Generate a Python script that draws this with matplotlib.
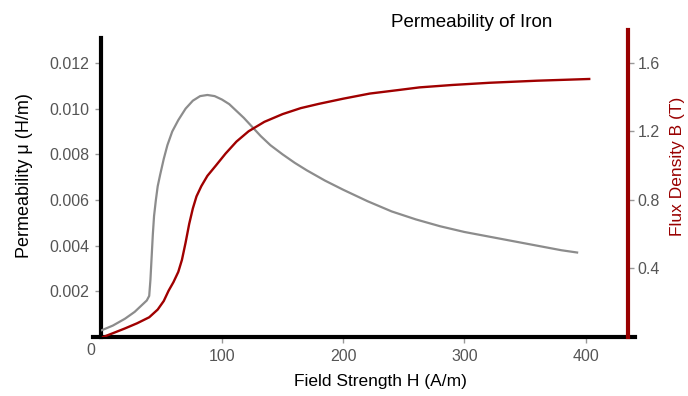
import matplotlib.pyplot as plt
import numpy as np

plt.rcParams['font.family'] = ['Liberation Sans', 'DejaVu Sans']

# permeability curve (gray)
mu_H = [1, 10, 20, 28, 34, 38, 40, 41, 42, 43, 44, 45.5, 47, 49, 52, 55, 59, 64, 70,
        76, 82, 88, 94, 100, 106, 112, 118, 125, 132, 140, 150, 160, 170, 185, 200,
        220, 240, 260, 280, 300, 320, 340, 360, 380, 393]
mu_val = [0.0003, 0.0005, 0.0008, 0.0011, 0.0014, 0.0016, 0.0018, 0.0025, 0.0035,
          0.0045, 0.0053, 0.0060, 0.0066, 0.0071, 0.0078, 0.0084, 0.0090, 0.0095,
          0.0100, 0.01035, 0.01055, 0.0106, 0.01055, 0.0104, 0.0102, 0.0099, 0.0096,
          0.0092, 0.0088, 0.0084, 0.0080, 0.00763, 0.0073, 0.00685, 0.00645, 0.00595,
          0.0055, 0.00515, 0.00485, 0.0046, 0.0044, 0.0042, 0.0040, 0.0038, 0.0037]

# flux density curve (red)
b_H = [2, 10, 20, 30, 40, 47, 52, 56, 60, 64, 67, 70, 73, 76, 79, 83, 88, 95, 103,
       112, 122, 135, 150, 165, 180, 200, 222, 245, 263, 290, 321, 360, 403]
b_val = [0.0, 0.022, 0.05, 0.08, 0.115, 0.16, 0.21, 0.27, 0.32, 0.38, 0.45, 0.55,
         0.66, 0.75, 0.82, 0.88, 0.94, 1.0, 1.07, 1.14, 1.2, 1.255, 1.3, 1.335, 1.36,
         1.39, 1.42, 1.44, 1.456, 1.47, 1.483, 1.495, 1.505]

x_ticks = [100, 200, 300, 400]
mu_ticks = [0.002, 0.004, 0.006, 0.008, 0.010, 0.012]
b_ticks = [0.4, 0.8, 1.2, 1.6]

dark_red = '#990000'
tick_grey = '#555555'

fig = plt.figure(figsize=(6.88, 3.96), dpi=100)
ax = fig.add_axes([0.1464, 0.149, 0.7664, 0.768])
ax2 = ax.twinx()

ax.plot(mu_H, mu_val, color='#8c8c8c', lw=1.6, zorder=3)
ax2.plot(b_H, b_val, color='#a00000', lw=1.7, zorder=3)

ax.set_xlim(0, 435)
ax.set_ylim(0, 0.01332)
ax2.set_ylim(0, 1.774)

for s in ['top', 'right']:
    ax.spines[s].set_visible(False)
for s in ['top', 'left', 'bottom']:
    ax2.spines[s].set_visible(False)
ax.spines['left'].set_linewidth(3)
ax.spines['left'].set_bounds(0, 0.0131)
ax.spines['bottom'].set_linewidth(3)
ax.spines['bottom'].set_bounds(-6, 441)
ax2.spines['right'].set_linewidth(3)
ax2.spines['right'].set_color(dark_red)
ax2.spines['right'].set_bounds(0, 1.79)

ax.set_xticks(x_ticks)
ax.set_xticklabels([str(t) for t in x_ticks])
ax.set_yticks(mu_ticks)
ax.set_yticklabels(['%.3f' % t for t in mu_ticks])
ax2.set_yticks(b_ticks)
ax2.set_yticklabels(['%.1f' % t for t in b_ticks])

ax.tick_params(axis='x', length=4, width=1, color='#999999', pad=5,
               labelsize=11.5, labelcolor=tick_grey)
ax.tick_params(axis='y', length=4, width=1, color='#999999', pad=4,
               labelsize=11.5, labelcolor=tick_grey)
ax2.tick_params(axis='y', length=4, width=1, color='#999999', pad=3,
                labelsize=11.5, labelcolor=tick_grey)

ax.text(-0.018, -0.045, '0', transform=ax.transAxes, ha='center', va='center',
        fontsize=11.5, color=tick_grey)

ax.set_xlabel('Field Strength H (A/m)', fontsize=12.5)
ax.xaxis.set_label_coords(0.53, -0.122)
ax.set_ylabel('Permeability μ (H/m)', fontsize=13)
ax.yaxis.set_label_coords(-0.128, 0.53)
ax2.set_ylabel('Flux Density B (T)', fontsize=12.5, color=dark_red)
ax2.yaxis.set_label_coords(1.079, 0.5625)

fig.text(0.686, 0.944, 'Permeability of Iron', ha='center', va='center', fontsize=13.5)

fig.savefig('out.png', dpi=100)
